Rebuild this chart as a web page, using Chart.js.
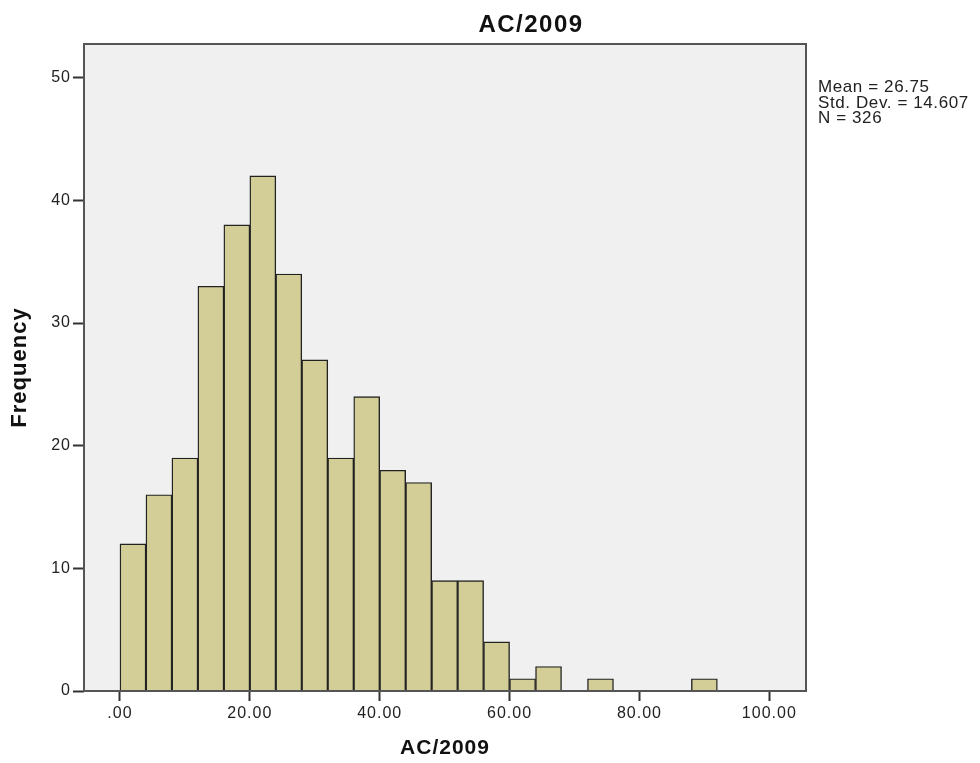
<!DOCTYPE html>
<html>
<head>
<meta charset="utf-8">
<script src="https://cdn.jsdelivr.net/npm/chart.js@4"></script>
<style>
body { margin: 0; background: #fff; }
</style>
</head>
<body>
<canvas id="histo" width="980" height="763"></canvas>
<script>
// histogram bins (lower edge) and their frequencies
var binStarts = [0, 4, 8, 12, 16, 20, 24, 28, 32, 36, 40, 44, 48, 52, 56, 60, 64, 68, 72, 76, 80, 84, 88]
var counts = [12, 16, 19, 33, 38, 42, 34, 27, 19, 24, 18, 17, 9, 9, 4, 1, 2, 0, 1, 0, 0, 0, 1]
var binWidth = 4
var xTicks = [0, 20, 40, 60, 80, 100]
var yTicks = [0, 10, 20, 30, 40, 50]
var chartTitle = "AC/2009"
var xTitle = "AC/2009"
var yTitle = "Frequency"
var statLines = ["Mean = 26.75", "Std. Dev. = 14.607", "N = 326"]

var fontName = "'Liberation Sans', Arial, sans-serif"

var points = binStarts.map(function (s, i) {
    return { x: s + binWidth / 2, y: counts[i] }
})

function fmtTick(v) {
    var s = Number(v).toFixed(2)
    return s.indexOf("0.") === 0 ? s.substring(1) : s
}

// background, frame, title and the stats box (SPSS style)
var spssFrame = {
    id: 'spssFrame',
    beforeLayout: function (chart) {
        chart.ctx.letterSpacing = '1px'
    },
    beforeDraw: function (chart) {
        var ctx = chart.ctx
        var a = chart.chartArea
        ctx.save()
        ctx.fillStyle = '#f0f0f0'
        ctx.fillRect(a.left, a.top, a.right - a.left, a.bottom - a.top)
        ctx.restore()
        ctx.letterSpacing = '1px'
    },
    afterDraw: function (chart) {
        var ctx = chart.ctx
        var a = chart.chartArea
        ctx.save()
        ctx.strokeStyle = '#555'
        ctx.lineWidth = 2
        ctx.strokeRect(a.left, a.top, a.right - a.left, a.bottom - a.top)

        ctx.fillStyle = '#111'
        ctx.letterSpacing = '1.5px'
        ctx.font = 'bold 24px ' + fontName
        ctx.textAlign = 'center'
        ctx.textBaseline = 'middle'
        ctx.fillText(chartTitle, 531, 25)

        ctx.letterSpacing = '0.6px'
        ctx.font = '17px ' + fontName
        ctx.textAlign = 'left'
        ctx.textBaseline = 'alphabetic'
        ctx.fillStyle = '#222'
        for (var i = 0; i < statLines.length; i++) {
            ctx.fillText(statLines[i], 818, 92 + i * 15.5)
        }
        ctx.restore()
    }
}

var ctx = document.getElementById('histo').getContext('2d')
var myChart = new Chart(ctx, {
    type: 'bar',
    data: {
        datasets: [{
            label: chartTitle,
            data: points,
            backgroundColor: '#d3ce97',
            borderColor: '#222',
            borderWidth: function (c) { return c.raw && c.raw.y > 0 ? 1.4 : 0 },
            borderSkipped: 'start',
            barPercentage: 1,
            categoryPercentage: 1
        }]
    },
    options: {
        responsive: false,
        animation: false,
        layout: { padding: { top: 44, right: 174, bottom: 0, left: 0 } },
        plugins: {
            legend: { display: false },
            tooltip: { enabled: false }
        },
        scales: {
            x: {
                type: 'linear',
                offset: false,
                min: -5.54,
                max: 105.65,
                afterBuildTicks: function (scale) {
                    scale.ticks = xTicks.map(function (v) { return { value: v } })
                },
                afterFit: function (scale) { scale.height = 72 },
                grid: {
                    offset: false,
                    drawOnChartArea: false,
                    drawTicks: true,
                    tickLength: 10,
                    tickWidth: 2,
                    tickColor: '#333'
                },
                border: { display: false },
                ticks: {
                    padding: 3,
                    maxRotation: 0,
                    color: '#222',
                    font: { family: fontName, size: 16 },
                    callback: function (v) { return fmtTick(v) }
                },
                title: {
                    display: true,
                    text: xTitle,
                    color: '#111',
                    font: { family: fontName, size: 21, weight: 'bold' },
                    padding: { top: 0, bottom: 2 }
                }
            },
            y: {
                min: 0,
                max: 52.75,
                afterBuildTicks: function (scale) {
                    scale.ticks = yTicks.map(function (v) { return { value: v } })
                },
                afterFit: function (scale) { scale.width = 84 },
                grid: {
                    offset: false,
                    drawOnChartArea: false,
                    drawTicks: true,
                    tickLength: 11,
                    tickWidth: 2,
                    tickColor: '#333'
                },
                border: { display: false },
                ticks: {
                    padding: 2,
                    color: '#222',
                    font: { family: fontName, size: 16 }
                },
                title: {
                    display: true,
                    text: yTitle,
                    color: '#111',
                    font: { family: fontName, size: 22, weight: 'bold' },
                    padding: { top: 7, bottom: 0 }
                }
            }
        }
    },
    plugins: [spssFrame]
})
</script>
</body>
</html>
